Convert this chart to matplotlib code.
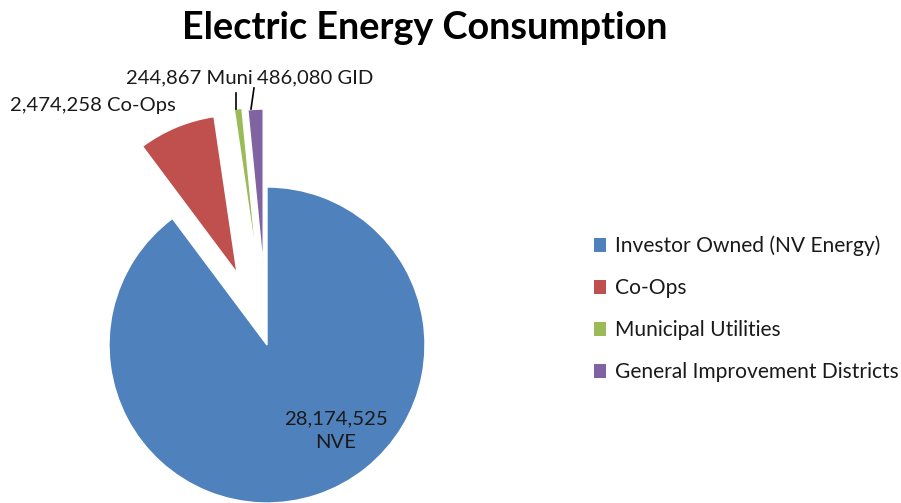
import matplotlib
matplotlib.use("Agg")
import matplotlib.pyplot as plt
from matplotlib.patches import Patch

categories = ["Investor Owned (NV Energy)", "Co-Ops", "Municipal Utilities", "General Improvement Districts"]
short_labels = ["NVE", "Co-Ops", "Muni", "GID"]
values = [28174525, 2474258, 244867, 486080]
colors = ["#4F81BD", "#C0504D", "#9BBB59", "#8064A2"]
explode_px = [0, 78, 80, 78]

W, H = 901, 503
fig = plt.figure(figsize=(W / 100, H / 100), dpi=100)
ax = fig.add_axes([0, 0, 1, 1])
R = 158
cx, cy = 267, H - 345
wedges, _ = ax.pie(values, colors=colors, startangle=90, counterclock=False,
                   radius=R, center=(cx, cy), explode=explode_px,
                   wedgeprops=dict(linewidth=1.0, edgecolor="white"))
ax.set_xlim(0, W)
ax.set_ylim(0, H)
ax.set_aspect("equal")
ax.axis("off")

font = "Lato"
fs = 14.6
tc = "#1a1a1a"
lab = [f"{v:,} {s}" for v, s in zip(values, short_labels)]
ax.text(336, H - 431, f"{values[0]:,}\n{short_labels[0]}", ha="center", va="center",
        fontsize=fs, family=font, color=tc, linespacing=1.45)
ax.text(10, H - 105, lab[1], ha="left", va="center", fontsize=fs, family=font, color=tc)
ax.text(253, H - 78, lab[2], ha="right", va="center", fontsize=fs, family=font, color=tc)
ax.text(257, H - 78, lab[3], ha="left", va="center", fontsize=fs, family=font, color=tc)
ax.plot([236, 236], [H - 109, H - 93], color="black", lw=1.2)
ax.plot([251, 254], [H - 109, H - 88], color="black", lw=1.2)

ax.text(425, H - 28, "Electric Energy Consumption", ha="center", va="center",
        fontsize=27.2, fontweight="bold", family=font, color="black")

handles = [Patch(facecolor=c, edgecolor="none") for c in colors]
leg = ax.legend(handles, categories, loc="center left", bbox_to_anchor=(575 / W, 1 - 309 / H),
                bbox_transform=fig.transFigure, frameon=False, handlelength=0.6, handleheight=0.6,
                handletextpad=0.4, labelspacing=1.05, prop=dict(family=font, size=15.1))
for t in leg.get_texts():
    t.set_color(tc)

fig.savefig("out.png", dpi=100)
